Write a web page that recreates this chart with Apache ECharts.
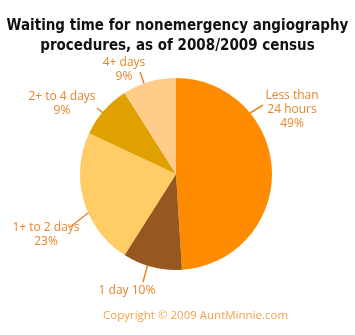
<!DOCTYPE html>
<html><head><meta charset="utf-8">
<script src="https://cdn.jsdelivr.net/npm/echarts@6/dist/echarts.min.js"></script>
<style>html,body{margin:0;padding:0;background:#fff}#c{width:355px;height:335px}</style>
</head><body><div id="c"></div>
<script>
const categories = ['Less than\n24 hours', '1 day', '1+ to 2 days', '2+ to 4 days', '4+ days'];
const values = [49, 10, 23, 9, 9];
const colors = ['#FF8C00', '#97581F', '#FFCC66', '#DFA000', '#FFCC8A'];
const labelSep = ['\n', ' ', '\n', '\n', '\n'];

// label placement (annotation layout only)
const labelPos = [[292, 89], [127, 284], [46, 221], [62, 90], [124, 56]];
const leaderPts = [
  [[250, 113], [263, 105]],
  [[149, 260], [143, 282]],
  [[92, 210], [70, 227]],
  [[108, 117], [97, 108]],
  [[147, 92], [140, 72]]
];

const chart = echarts.init(document.getElementById('c'), null, {renderer: 'canvas'});
chart.setOption({
  animation: false,
  title: {
    text: 'Waiting time for nonemergency angiography\nprocedures, as of 2008/2009 census',
    left: 'center', top: 11,
    textStyle: {fontFamily: 'DejaVu Sans Condensed', fontWeight: 'bold', fontSize: 15, color: '#111', lineHeight: 20}
  },
  graphic: [{
    type: 'text', left: 103, top: 310,
    style: {text: 'Copyright © 2009 AuntMinnie.com', font: '11.5px "Open Sans"', fill: '#F3A24A'}
  }],
  series: [{
    type: 'pie',
    center: [176, 174],
    radius: 96,
    startAngle: 90,
    clockwise: true,
    data: categories.map((c, i) => ({name: c, value: values[i], itemStyle: {color: colors[i]}})),
    label: {
      show: true, position: 'outside', color: '#E8842A', fontFamily: 'Open Sans', fontSize: 12, lineHeight: 14,
      overflow: 'none',
      formatter: p => p.name + labelSep[p.dataIndex] + p.value + '%'
    },
    labelLine: {show: true, length: 12, length2: 0, lineStyle: {color: '#E8842A', width: 1.5}},
    labelLayout: p => ({
      x: labelPos[p.dataIndex][0], y: labelPos[p.dataIndex][1],
      align: 'center', verticalAlign: 'top',
      labelLinePoints: [leaderPts[p.dataIndex][0], leaderPts[p.dataIndex][1], leaderPts[p.dataIndex][1]]
    })
  }]
});
</script></body></html>
